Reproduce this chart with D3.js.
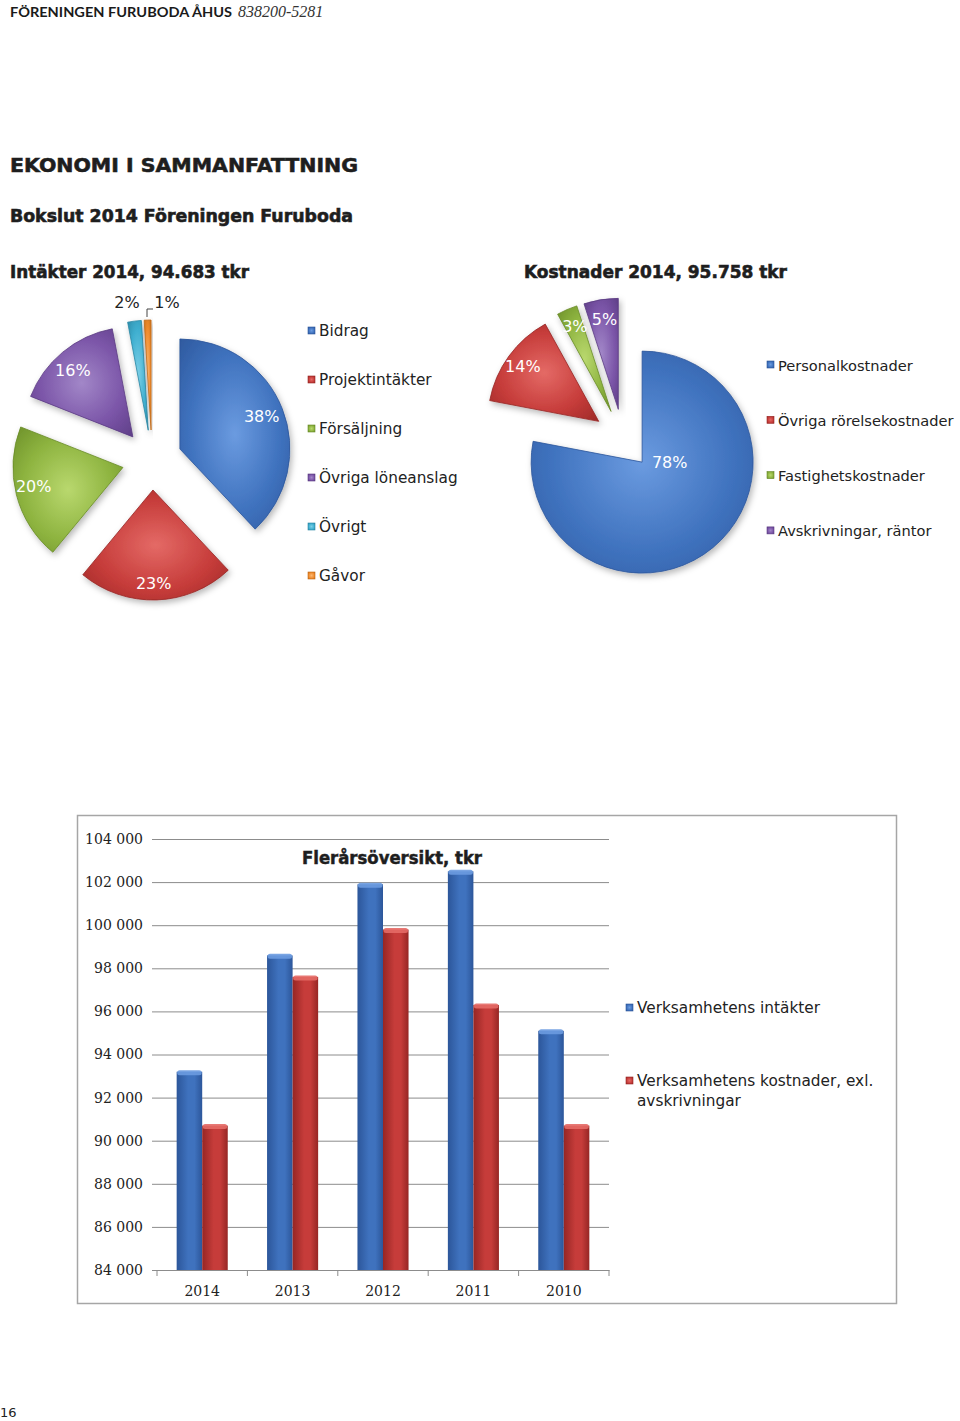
<!DOCTYPE html>
<html>
<head>
<meta charset="utf-8">
<script src="https://cdn.jsdelivr.net/npm/d3@7"></script>
<style>
  body { margin: 0; background: #fff; }
  svg { display: block; }
  .sans { font-family: "DejaVu Sans", sans-serif; }
  .serif { font-family: "DejaVu Serif", serif; }
</style>
</head>
<body>
<svg id="page" width="960" height="1421"></svg>
<script>
// pie data
const incomeLabels = ["Bidrag", "Projektintäkter", "Försäljning", "Övriga löneanslag", "Övrigt", "Gåvor"];
const incomeShares = [38, 23, 20, 16, 2, 1];
const costLabels = ["Personalkostnader", "Övriga rörelsekostnader", "Fastighetskostnader", "Avskrivningar, räntor"];
const costShares = [78, 14, 3, 5];

// bar data (tkr)
const years = ["2014", "2013", "2012", "2011", "2010"];
const intakter = [93200, 98600, 101900, 102500, 95100];
const kostnader = [90700, 97600, 99800, 96300, 90700];
const yTicks = [84000, 86000, 88000, 90000, 92000, 94000, 96000, 98000, 100000, 102000, 104000];
const seriesNames = ["Verksamhetens intäkter", "Verksamhetens kostnader, exl.|avskrivningar"];

const palette = {
  blue: ["#6b9be0", "#3f72be", "#2c569a"],
  red: ["#e46a66", "#c63c3a", "#962624"],
  green: ["#b9d86e", "#8db33f", "#678a26"],
  purple: ["#a287c8", "#7b55a8", "#5a3b82"],
  cyan: ["#7ccfe6", "#3fafd0", "#2a86a3"],
  orange: ["#fbb872", "#f08c2e", "#c26a16"]
};

const svg = d3.select("#page");
const defs = svg.append("defs");

Object.keys(palette).forEach(function (k) {
  const c = palette[k];
  const rg = defs.append("radialGradient").attr("id", "rg-" + k).attr("r", "0.75");
  rg.append("stop").attr("offset", "0%").attr("stop-color", c[0]);
  rg.append("stop").attr("offset", "55%").attr("stop-color", c[1]);
  rg.append("stop").attr("offset", "100%").attr("stop-color", c[2]);
  const lg = defs.append("linearGradient").attr("id", "lg-" + k);
  lg.append("stop").attr("offset", "0%").attr("stop-color", c[2]);
  lg.append("stop").attr("offset", "45%").attr("stop-color", c[1]);
  lg.append("stop").attr("offset", "70%").attr("stop-color", c[1]);
  lg.append("stop").attr("offset", "100%").attr("stop-color", c[2]);
});

const shadow = defs.append("filter").attr("id", "shadow")
  .attr("x", "-20%").attr("y", "-20%").attr("width", "140%").attr("height", "140%");
shadow.append("feDropShadow").attr("dx", 2).attr("dy", 3)
  .attr("stdDeviation", 3).attr("flood-color", "#000").attr("flood-opacity", 0.28);

// ---------- page headings ----------
svg.append("text").attr("x", 10).attr("y", 17)
  .attr("font-family", "Lato, sans-serif").attr("font-size", 14).attr("font-weight", 700)
  .attr("fill", "#1a1a1a").attr("textLength", 222).attr("lengthAdjust", "spacingAndGlyphs")
  .text("FÖRENINGEN FURUBODA ÅHUS");
svg.append("text").attr("x", 238).attr("y", 17)
  .attr("font-family", "Liberation Serif, serif").attr("font-style", "italic")
  .attr("font-size", 16).attr("fill", "#333").text("838200-5281");

function heading(x, y, size, w, txt) {
  svg.append("text").attr("class", "sans").attr("x", x).attr("y", y)
    .attr("font-size", size).attr("font-weight", 700).attr("fill", "#1e1e1e")
    .attr("stroke", "#1e1e1e").attr("stroke-width", 0.6)
    .attr("textLength", w).attr("lengthAdjust", "spacingAndGlyphs")
    .text(txt);
}
heading(10, 172, 19.5, 348, "EKONOMI I SAMMANFATTNING");
heading(10, 222, 17, 343, "Bokslut 2014 Föreningen Furuboda");
heading(10, 278, 17, 239, "Intäkter 2014, 94.683 tkr");
heading(524, 278, 17, 263, "Kostnader 2014, 95.758 tkr");

// ---------- exploded pies ----------
function drawPie(opt) {
  const g = svg.append("g").attr("transform", "translate(" + opt.cx + "," + opt.cy + ")");
  const pie = d3.pie().sort(null).value(function (d) { return d; });
  const arc = d3.arc().innerRadius(0).outerRadius(opt.r);
  const arcs = pie(opt.values);

  arcs.forEach(function (a, i) {
    const mid = (a.startAngle + a.endAngle) / 2;
    const ox = Math.sin(mid) * opt.explode;
    const oy = -Math.cos(mid) * opt.explode;
    const sg = g.append("g").attr("transform", "translate(" + ox + "," + oy + ")");
    sg.append("path")
      .attr("d", arc(a))
      .attr("fill", "url(#rg-" + opt.colors[i] + ")")
      .attr("stroke", palette[opt.colors[i]][2])
      .attr("stroke-width", 0.8)
      .attr("filter", "url(#shadow)");

    const small = opt.values[i] < 3;
    const lr = small ? opt.r * 1.18 : opt.r * 0.8;
    const nudge = opt.nudges[i] || [0, 0];
    const lx = ox + Math.sin(mid) * lr + nudge[0];
    const ly = oy - Math.cos(mid) * lr + nudge[1];
    g.append("text").attr("class", "sans")
      .attr("x", lx).attr("y", ly)
      .attr("text-anchor", "middle").attr("dominant-baseline", "central")
      .attr("font-size", 16)
      .attr("fill", small ? "#222" : "#fff")
      .text(opt.values[i] + "%");
  });

  // legend
  const lg = svg.append("g");
  opt.labels.forEach(function (t, i) {
    const y = opt.legendY + i * opt.legendStep;
    lg.append("rect").attr("x", opt.legendX - 11).attr("y", y - 3)
      .attr("width", 7).attr("height", 7)
      .attr("fill", "url(#rg-" + opt.colors[i] + ")")
      .attr("stroke", palette[opt.colors[i]][2]).attr("stroke-width", 0.6);
    lg.append("text").attr("class", "sans").attr("x", opt.legendX).attr("y", y + 1)
      .attr("dominant-baseline", "central").attr("font-size", opt.legendFont).attr("fill", "#222")
      .text(t);
  });
  return g;
}

const leftPie = drawPie({
  cx: 152, cy: 460, r: 110, explode: 30,
  values: incomeShares, labels: incomeLabels,
  colors: ["blue", "red", "green", "purple", "cyan", "orange"],
  nudges: [[0, 0], [-2, 6], [-4, -3], [-4, 1], [-5, 1], [20, 2]],
  legendX: 319, legendY: 330, legendStep: 49, legendFont: 15.3
});
// leader line for the 1% slice
leftPie.append("path").attr("d", "M-5,-143V-151H1")
  .attr("fill", "none").attr("stroke", "#444").attr("stroke-width", 1);

drawPie({
  cx: 623, cy: 439, r: 111, explode: 30,
  values: costShares, labels: costLabels,
  colors: ["blue", "red", "green", "purple"],
  nudges: [[-29, -68], [-4, -3], [-1, -3], [0, -2]],
  legendX: 778, legendY: 364, legendStep: 55.3, legendFont: 14.6
});

// ---------- multi-year bar chart ----------
svg.append("rect").attr("x", 77.5).attr("y", 815.5).attr("width", 819).attr("height", 488)
  .attr("fill", "#fff").attr("stroke", "#a6a6a6").attr("stroke-width", 1.5);

const y = d3.scaleLinear().domain([84000, 104000]).range([1270, 839]);
const x0 = d3.scaleBand().domain(years).range([157, 609]).paddingInner(0.435).paddingOuter(0.2175);
const x1 = d3.scaleBand().domain([0, 1]).range([0, x0.bandwidth()]);
const fmt = d3.formatLocale({ decimal: ",", thousands: " ", grouping: [3], currency: ["", ""] }).format(",");

const chart = svg.append("g");

chart.append("g")
  .attr("transform", "translate(157,0)")
  .call(d3.axisLeft(y).tickValues(yTicks).tickSize(5).tickPadding(9).tickFormat(fmt))
  .call(function (g) {
    g.select(".domain").remove();
    g.selectAll(".tick line").attr("stroke", "#8c8c8c").attr("x2", 609 - 157);
    g.selectAll(".tick line").attr("x1", -5);
    g.selectAll(".tick text").attr("class", "serif").attr("font-size", 14).attr("fill", "#222");
  });

chart.append("g")
  .attr("transform", "translate(0,1270)")
  .call(d3.axisBottom(x0).tickSize(0).tickPadding(16))
  .call(function (g) {
    g.select(".domain").attr("stroke", "#8c8c8c");
    g.selectAll(".tick text").attr("class", "serif").attr("font-size", 14).attr("fill", "#222");
  });
// category separator ticks
chart.append("g").selectAll("line")
  .data(years.concat(["end"]))
  .enter().append("line")
  .attr("x1", function (d, i) { return 157 + i * x0.step(); })
  .attr("x2", function (d, i) { return 157 + i * x0.step(); })
  .attr("y1", 1270).attr("y2", 1276)
  .attr("stroke", "#8c8c8c");

const rows = years.map(function (yr, i) { return { year: yr, vals: [intakter[i], kostnader[i]] }; });
const barColors = ["blue", "red"];

const groups = chart.selectAll(".grp").data(rows).enter().append("g")
  .attr("transform", function (d) { return "translate(" + x0(d.year) + ",0)"; });

groups.selectAll("rect.bar")
  .data(function (d) { return d.vals; })
  .enter().append("rect")
  .attr("class", "bar")
  .attr("x", function (d, i) { return x1(i); })
  .attr("y", function (d) { return y(d); })
  .attr("width", x1.bandwidth())
  .attr("height", function (d) { return y(84000) - y(d); })
  .attr("fill", function (d, i) { return "url(#lg-" + barColors[i] + ")"; });

groups.selectAll("rect.cap")
  .data(function (d) { return d.vals; })
  .enter().append("rect")
  .attr("class", "cap")
  .attr("x", function (d, i) { return x1(i) + 0.5; })
  .attr("y", function (d) { return y(d) - 1.5; })
  .attr("width", x1.bandwidth() - 1)
  .attr("height", 5).attr("rx", 2.5)
  .attr("fill", function (d, i) { return palette[barColors[i]][0]; })
  .attr("opacity", 0.9);

svg.append("text").attr("class", "sans").attr("x", 302).attr("y", 858)
  .attr("dominant-baseline", "central")
  .attr("font-size", 17).attr("font-weight", 700).attr("fill", "#1e1e1e")
  .attr("stroke", "#1e1e1e").attr("stroke-width", 0.5)
  .attr("textLength", 180).attr("lengthAdjust", "spacingAndGlyphs")
  .text("Flerårsöversikt, tkr");

// bar legend
const legendY = [1007, 1080];
seriesNames.forEach(function (name, i) {
  svg.append("rect").attr("x", 626).attr("y", legendY[i] - 3)
    .attr("width", 7).attr("height", 7)
    .attr("fill", "url(#rg-" + barColors[i] + ")")
    .attr("stroke", palette[barColors[i]][2]).attr("stroke-width", 0.6);
  name.split("|").forEach(function (line, j) {
    svg.append("text").attr("class", "sans").attr("x", 637).attr("y", legendY[i] + 1 + j * 20)
      .attr("dominant-baseline", "central").attr("font-size", 15.3).attr("fill", "#222")
      .text(line);
  });
});

// page number
svg.append("text").attr("class", "sans").attr("x", 0).attr("y", 1417)
  .attr("font-size", 13).attr("fill", "#222").text("16");
</script>
</body>
</html>
